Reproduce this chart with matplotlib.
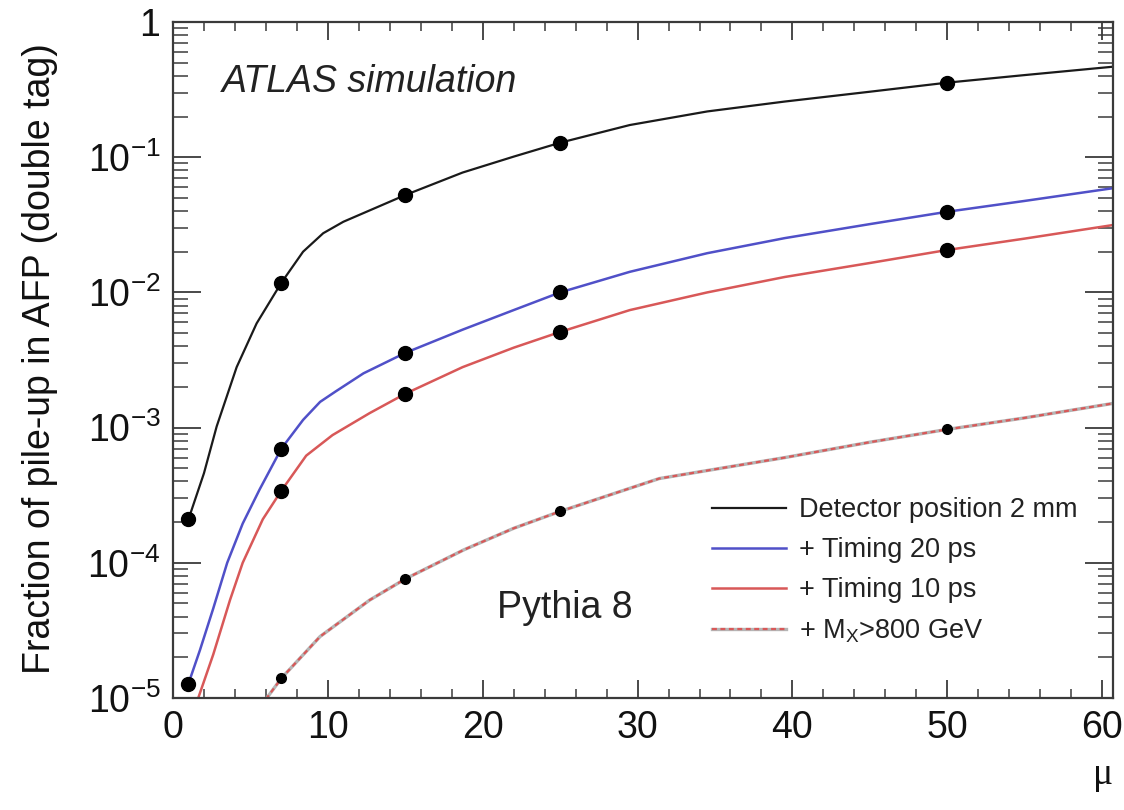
import matplotlib
matplotlib.use("Agg")
import matplotlib.pyplot as plt
from matplotlib.ticker import MultipleLocator, LogLocator, NullFormatter

plt.rcParams['font.family'] = ['Liberation Sans', 'DejaVu Sans']
plt.rcParams['mathtext.fontset'] = 'custom'
plt.rcParams['mathtext.rm'] = 'Liberation Sans'
plt.rcParams['mathtext.it'] = 'Liberation Sans:italic'
plt.rcParams['mathtext.bf'] = 'Liberation Sans:bold'

# ---- data ----
mu_points = [1, 7, 15, 25, 50]
det2mm_points = [2.1e-4, 1.18e-2, 5.25e-2, 0.128, 0.356]
t20_points = [1.28e-5, 7.0e-4, 3.57e-3, 1.0e-2, 3.95e-2]
t10_points = [6.5e-6, 3.42e-4, 1.78e-3, 5.1e-3, 2.06e-2]
mx_mu_points = [7, 15, 25, 50]
mx_points = [1.4e-5, 7.6e-5, 2.4e-4, 9.7e-4]

det2mm_mu = [1, 2, 2.82, 4.11, 5.4, 7, 8.4, 9.7, 11, 12.5, 15, 18.7, 22, 25, 29.5,
             34.5, 39.5, 45, 50, 55, 60.7]
det2mm_val = [2.1e-4, 4.6e-4, 1.02e-3, 2.8e-3, 5.9e-3, 1.18e-2, 2.0e-2, 2.74e-2, 3.33e-2,
              3.95e-2, 5.25e-2, 7.7e-2, 0.101, 0.128, 0.173, 0.218, 0.258, 0.305, 0.356,
              0.405, 0.467]

t20_mu = [1, 1.74, 2.6, 3.5, 4.5, 5.6, 7, 8.4, 9.5, 10.5, 12.3, 15, 18.7, 22, 25, 29.5,
          34.5, 39.5, 45, 50, 55, 60.7]
t20_val = [1.28e-5, 2.26e-5, 4.6e-5, 1.0e-4, 1.95e-4, 3.5e-4, 7.0e-4, 1.14e-3, 1.55e-3,
           1.85e-3, 2.52e-3, 3.57e-3, 5.3e-3, 7.4e-3, 1.0e-2, 1.42e-2, 1.95e-2, 2.52e-2,
           3.2e-2, 3.95e-2, 4.75e-2, 5.9e-2]

t10_mu = [1, 1.63, 2.6, 3.68, 4.5, 5.8, 7, 8.6, 10.3, 12.7, 15, 18.7, 22, 25, 29.5,
          34.5, 39.5, 45, 50, 55, 60.7]
t10_val = [6.5e-6, 1.0e-5, 2.1e-5, 5.3e-5, 1.0e-4, 2.1e-4, 3.42e-4, 6.2e-4, 8.8e-4, 1.28e-3,
           1.78e-3, 2.8e-3, 3.9e-3, 5.1e-3, 7.4e-3, 1.0e-2, 1.3e-2, 1.65e-2, 2.06e-2,
           2.5e-2, 3.15e-2]

mx_mu = [6.0, 7, 9.5, 12.7, 15, 18.8, 22, 25, 31.4, 39.5, 45, 50, 55, 60.7]
mx_val = [9.8e-6, 1.4e-5, 2.85e-5, 5.3e-5, 7.6e-5, 1.25e-4, 1.8e-4, 2.4e-4, 4.2e-4, 6.0e-4,
          7.8e-4, 9.7e-4, 1.18e-3, 1.51e-3]

legend_labels = ["Detector position 2 mm", "+ Timing 20 ps", "+ Timing 10 ps",
                 "+ M$_{\\rm X}$>800 GeV"]
ytick_vals = [1e-5, 1e-4, 1e-3, 1e-2, 1e-1, 1]
ytick_labels = ["$10^{-5}$", "$10^{-4}$", "$10^{-3}$", "$10^{-2}$", "$10^{-1}$", "1"]
xtick_vals = [0, 10, 20, 30, 40, 50, 60]
xtick_labels = ["0", "10", "20", "30", "40", "50", "60"]

# ---- figure ----
W, H = 1124, 810
fig = plt.figure(figsize=(W / 100, H / 100), dpi=100)
ax = fig.add_axes([173 / W, 1 - 698 / H, (1113 - 173) / W, (698 - 22) / H])
ax.set_yscale('log')
ax.set_xlim(0, 60.7)
ax.set_ylim(1e-5, 1)

c_black = '#1a1a1a'
c_blue = '#5050c8'
c_red = '#d85858'

l1, = ax.plot(det2mm_mu, det2mm_val, color=c_black, lw=1.6)
l2, = ax.plot(t20_mu, t20_val, color=c_blue, lw=1.8)
l3, = ax.plot(t10_mu, t10_val, color=c_red, lw=1.8)
l4a, = ax.plot(mx_mu, mx_val, color='#b5b5b5', lw=2.4)
l4b, = ax.plot(mx_mu, mx_val, color=c_red, lw=1.6, ls=(0, (2.2, 1.6)))

ax.plot(mu_points, det2mm_points, 'o', color='black', ms=10, zorder=5)
ax.plot(mu_points, t20_points, 'o', color='black', ms=10, zorder=5)
ax.plot(mu_points, t10_points, 'o', color='black', ms=10, zorder=5)
ax.plot(mx_mu_points, mx_points, 'o', color='black', ms=7, zorder=5)

# axes styling
for s in ax.spines.values():
    s.set_linewidth(1.6)
    s.set_color('#3a3a3a')

ax.set_xticks(xtick_vals)
ax.set_xticklabels(xtick_labels)
ax.xaxis.set_minor_locator(MultipleLocator(2))
ax.set_yticks(ytick_vals)
ax.set_yticklabels(ytick_labels)
ax.yaxis.set_minor_locator(LogLocator(base=10, subs=[2, 3, 4, 5, 6, 7, 8, 9], numticks=20))
ax.yaxis.set_minor_formatter(NullFormatter())

ax.tick_params(axis='both', which='both', direction='in', top=True, right=True,
               color='#3a3a3a', labelsize=27, labelcolor='#111111')
ax.tick_params(axis='x', which='major', length=13, width=1.3, pad=9)
ax.tick_params(axis='x', which='minor', length=6.5, width=1.1)
ax.tick_params(axis='y', which='major', length=20, width=1.3, pad=9)
ax.tick_params(axis='y', which='minor', length=11, width=1.1)

fig.text(40 / W, 1 - 359 / H, "Fraction of pile-up in AFP (double tag)", rotation=90,
         ha='center', va='center', fontsize=27, color='#111111')
fig.text(1103 / W, 1 - 775 / H, "μ", ha='center', va='center', fontsize=27,
         family='Liberation Serif', color='#111111')

ax.text(222 / W, 1 - 82 / H, "ATLAS simulation", transform=fig.transFigure,
        fontsize=27, style='italic', ha='left', va='center', color='#222222')
ax.text(497 / W, 1 - 608 / H, "Pythia 8", transform=fig.transFigure,
        fontsize=27, ha='left', va='center', color='#222222')

leg = fig.legend([l1, l2, l3, (l4a, l4b)], legend_labels,
                 loc='upper left', bbox_to_anchor=(712 / W, 1 - 497 / H),
                 frameon=False, fontsize=19.5, handlelength=2.75, handletextpad=0.45,
                 labelspacing=0.52, borderpad=0, borderaxespad=0)
for t in leg.get_texts():
    t.set_color('#222222')

fig.savefig("out.png", dpi=100)
